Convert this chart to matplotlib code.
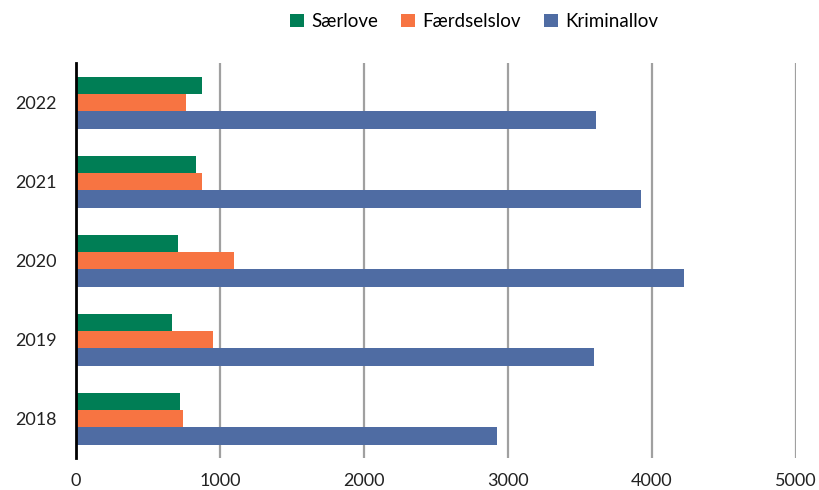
import numpy as np
import matplotlib.pyplot as plt

# data
years = ['2018', '2019', '2020', '2021', '2022']
saerlove = [724, 664, 706, 831, 872]
faerdselslov = [745, 949, 1099, 877, 766]
kriminallov = [2926, 3597, 4224, 3921, 3613]

plt.rcParams['font.family'] = ['Lato', 'DejaVu Sans']

fig = plt.figure(figsize=(8.19, 4.9), dpi=100)
ax = fig.add_axes([0.0928, 0.065, 0.8792, 0.806])

y = np.arange(len(years))
h = 0.22
ax.barh(y + h, saerlove, height=h, color='#007E55', label='Særlove', zorder=3)
ax.barh(y, faerdselslov, height=h, color='#F77442', label='Færdselslov', zorder=3)
ax.barh(y - h, kriminallov, height=h, color='#4F6CA3', label='Kriminallov', zorder=3)

ax.set_xlim(0, 5000)
ax.set_ylim(-0.5, 4.5)
ax.set_xticks(range(0, 5001, 1000))
ax.set_yticks(y)
ax.set_yticklabels(years)
ax.tick_params(axis='both', length=0, labelsize=13, colors='#222222')
ax.tick_params(axis='x', pad=11)
ax.tick_params(axis='y', pad=14)

ax.grid(axis='x', color='#A0A0A0', linewidth=1.6, zorder=0)
for s in ['top', 'right', 'bottom']:
    ax.spines[s].set_visible(False)
ax.spines['left'].set_color('black')
ax.spines['left'].set_linewidth(2)
ax.spines['left'].set_zorder(4)

fig.legend(loc='upper center', bbox_to_anchor=(0.579, 1.008), ncol=3, frameon=False,
           fontsize=13.5, handlelength=0.75, handleheight=0.75, columnspacing=1.2,
           handletextpad=0.4)

fig.savefig('out.png', dpi=100)
